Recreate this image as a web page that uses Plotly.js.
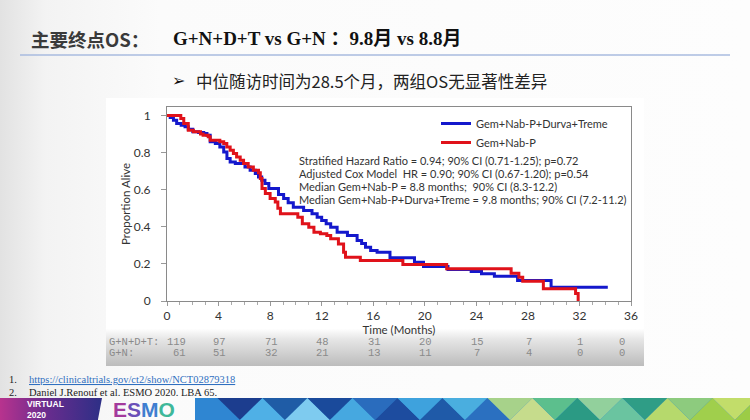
<!DOCTYPE html>
<html>
<head>
<meta charset="utf-8">
<script src="https://cdn.plot.ly/plotly-3.0.1.min.js"></script>
<style>
  html, body { margin:0; padding:0; }
  body { width:750px; height:420px; overflow:hidden; position:relative;
         background: linear-gradient(to right, #e2e2e2 0px, #f3f3f3 45px, #fbfbfb 160px, #fdfdfd 100%); }
  #box { position:absolute; left:106px; top:98px; width:538px; height:268px;
         background: linear-gradient(to bottom, #ffffff 0%, #ffffff 86%, #e6e6e6 90%, #bcbcbc 100%); z-index:0; }
  #virt { position:absolute; left:0; top:398px; width:102px; height:22px;
          background: linear-gradient(to right, #b8338e 0%, #6a2c8e 45%, #2d2f86 100%);
          clip-path: polygon(0 0, 100% 0, 96% 100%, 0 100%); z-index:0; }
  #plot { position:absolute; left:0; top:0; width:750px; height:420px; z-index:1; }
</style>
</head>
<body>
<div id="box"></div>
<div id="virt"></div>
<div id="plot"></div>
<script>
// ---- data ----
const blueName = 'Gem+Nab-P+Durva+Treme';
const redName = 'Gem+Nab-P';
const blueTime = [0,0.25,0.5,0.75,1.1,1.4,1.65,2.0,2.45,2.85,3.1,3.35,3.75,4.1,4.4,4.65,4.9,5.3,6.05,6.45,6.85,7.1,7.35,7.6,7.9,8.65,9.05,9.4,9.8,10.6,11.25,11.65,12.0,12.35,12.7,13.2,14.0,14.75,15.1,15.4,15.8,16.3,17.3,19.2,19.9,21.8,23.6,24.4,25.4,27.2,29.8,34.2];
const blueSurv = [1,0.99,0.975,0.957,0.948,0.94,0.926,0.912,0.908,0.903,0.894,0.858,0.849,0.831,0.804,0.768,0.75,0.741,0.723,0.705,0.687,0.669,0.651,0.633,0.606,0.574,0.552,0.53,0.506,0.488,0.47,0.452,0.434,0.416,0.398,0.371,0.353,0.326,0.31,0.29,0.272,0.263,0.233,0.209,0.186,0.17,0.159,0.147,0.133,0.11,0.074,0.074];
const redTime = [0,1.07,1.3,1.65,2.05,2.6,2.8,3.2,3.35,4.1,4.4,4.64,4.9,5.15,5.4,5.68,5.94,6.3,6.7,7.1,7.24,7.37,7.63,8.0,8.4,8.6,8.8,10.15,10.5,11.0,11.4,11.9,12.4,12.7,13.3,13.7,13.85,15.0,18.3,21.7,26.7,27.3,27.6,29.2,31.7,31.9];
const redSurv = [1,0.984,0.957,0.92,0.912,0.9,0.894,0.885,0.867,0.858,0.849,0.831,0.813,0.795,0.777,0.759,0.741,0.723,0.705,0.692,0.66,0.606,0.579,0.552,0.534,0.5,0.47,0.452,0.416,0.398,0.371,0.362,0.353,0.335,0.308,0.263,0.236,0.218,0.197,0.174,0.15,0.128,0.107,0.066,0.04,0];
const xTicks = [0,4,8,12,16,20,24,28,32,36];
const yTicks = [0,0.2,0.4,0.6,0.8,1];
const yTickText = ['0','0.2','0.4','0.6','0.8','1'];
const riskTimes = [0,4,8,12,16,20,24,28,32,36];
const riskLabelDT = 'G+N+D+T:';
const riskLabelGN = 'G+N:';
const riskDT = [119,97,71,48,31,20,15,7,1,0];
const riskGN = [61,51,32,21,13,11,7,4,0,0];
const statLines = [
  'Stratified Hazard Ratio = 0.94; 90% CI (0.71-1.25); p=0.72',
  'Adjusted Cox Model  HR = 0.90; 90% CI (0.67-1.20); p=0.54',
  'Median Gem+Nab-P = 8.8 months;  90% CI (8.3-12.2)',
  'Median Gem+Nab-P+Durva+Treme = 9.8 months; 90% CI (7.2-11.2)'
];
const titleMain = '主要终点OS：';
const titleSub = 'G+N+D+T vs G+N ：9.8月 vs 8.8月';
const bulletText = '中位随访时间为28.5个月，两组OS无显著性差异';
const ref1 = 'https://clinicaltrials.gov/ct2/show/NCT02879318';
const ref2 = 'Daniel J.Renouf et al. ESMO 2020. LBA 65.';
const bannerText = 'VIRTUAL<br>2020';

// ---- geometry helpers (pixel -> paper) ----
const L = 167, R = 631, T = 107, B = 301;
const W = R - L, H = B - T;
const px = x => (x - L) / W;
const py = y => (B - y) / H;

const chartFont = 'Lato, "Noto Sans", sans-serif';
const mono = '"Liberation Mono", "DejaVu Sans Mono", monospace';

const traces = [
  { x: blueTime, y: blueSurv, name: blueName, type: 'scatter', mode: 'lines',
    line: { shape: 'hv', color: '#1418cc', width: 3 } },
  { x: redTime, y: redSurv, name: redName, type: 'scatter', mode: 'lines',
    line: { shape: 'hv', color: '#e0121a', width: 3 } }
];

const ann = [];
statLines.forEach((s, i) => {
  ann.push({ text: s, xref: 'paper', yref: 'paper', x: px(297), y: py(160 + i * 13),
    xanchor: 'left', yanchor: 'middle', showarrow: false,
    font: { family: chartFont, size: 11, color: '#333' } });
});
// risk table
const riskFont = { family: mono, size: 10.5, color: '#8a8a8a' };
const rowY = [341.5, 353];
ann.push({ text: riskLabelDT, xref: 'paper', yref: 'paper', x: px(107), y: py(rowY[0]), xanchor: 'left', yanchor: 'middle', showarrow: false, font: riskFont });
ann.push({ text: riskLabelGN, xref: 'paper', yref: 'paper', x: px(107), y: py(rowY[1]), xanchor: 'left', yanchor: 'middle', showarrow: false, font: riskFont });
riskTimes.forEach((t, i) => {
  const first = i === 0;
  const last = i === riskTimes.length - 1;
  [[riskDT, rowY[0]], [riskGN, rowY[1]]].forEach(([arr, yy]) => {
    ann.push({ text: String(arr[i]), xref: 'x', yref: 'paper', x: t, y: py(yy),
      xanchor: first ? 'right' : 'center', xshift: first ? 21 : (last ? -9 : 1), yanchor: 'middle', showarrow: false,
      font: riskFont });
  });
});
// slide texts
ann.push({ text: '<b>' + titleMain + '</b>', xref: 'paper', yref: 'paper', x: px(29), y: py(39), xanchor: 'left', yanchor: 'middle', showarrow: false,
  font: { family: '"Noto Sans CJK SC", sans-serif', size: 18.5, color: '#3a3a3a' } });
ann.push({ text: '<b>' + titleSub + '</b>', xref: 'paper', yref: 'paper', x: px(171), y: py(39), xanchor: 'left', yanchor: 'middle', showarrow: false,
  font: { family: '"Liberation Serif", "Noto Sans CJK SC", serif', size: 19, color: '#111' } });
ann.push({ text: '<b>➢</b>', xref: 'paper', yref: 'paper', x: px(170), y: py(80), xanchor: 'left', yanchor: 'middle', showarrow: false,
  font: { family: '"DejaVu Sans", sans-serif', size: 16, color: '#111' } });
ann.push({ text: bulletText, xref: 'paper', yref: 'paper', x: px(194), y: py(81), xanchor: 'left', yanchor: 'middle', showarrow: false,
  font: { family: '"Noto Sans CJK SC", sans-serif', size: 16.5, color: '#222' } });
ann.push({ text: '1.', xref: 'paper', yref: 'paper', x: px(7), y: py(379), xanchor: 'left', yanchor: 'middle', showarrow: false,
  font: { family: '"Liberation Serif", serif', size: 10.5, color: '#222' } });
ann.push({ text: '<u>' + ref1 + '</u>', xref: 'paper', yref: 'paper', x: px(27), y: py(379), xanchor: 'left', yanchor: 'middle', showarrow: false,
  font: { family: '"Liberation Serif", serif', size: 10.5, color: '#2f6fc0' } });
ann.push({ text: '2.', xref: 'paper', yref: 'paper', x: px(7), y: py(392), xanchor: 'left', yanchor: 'middle', showarrow: false,
  font: { family: '"Liberation Serif", serif', size: 10.5, color: '#222' } });
ann.push({ text: ref2, xref: 'paper', yref: 'paper', x: px(27), y: py(392), xanchor: 'left', yanchor: 'middle', showarrow: false,
  font: { family: '"Liberation Serif", serif', size: 10.5, color: '#222' } });
ann.push({ text: '<b>' + bannerText + '</b>', xref: 'paper', yref: 'paper', x: px(25), y: py(409.5), xanchor: 'left', yanchor: 'middle', align: 'left', showarrow: false,
  font: { family: '"Liberation Sans", sans-serif', size: 8.5, color: '#fff' } });
ann.push({ text: '<b><span style="color:#a43a9c">E</span><span style="color:#6a4fb8">S</span><span style="color:#3f7fd0">M</span><span style="color:#3fb89a">O</span></b>',
  xref: 'paper', yref: 'paper', x: px(111), y: py(409), xanchor: 'left', yanchor: 'middle', showarrow: false,
  font: { family: '"Liberation Sans", sans-serif', size: 21, color: '#6a4fb8' } });

// decorative shapes
const shapes = [];
shapes.push({ type: 'line', xref: 'paper', yref: 'paper', x0: px(20), x1: px(730), y0: py(55), y1: py(55),
  line: { color: '#a9bbdf', width: 1.5 } });
const bandColors = ['#2f86d2','#1c3d8e','#4fb0e6','#1f5ca6','#7ecbef','#1a4a9b','#46a8e0','#2a6cbd','#1d4c9f','#3ea2dd','#1f5aa8','#4aaedf','#2b70c0','#a7d28a','#c6dc8c','#5cbf8d','#2b9a84','#92d09c','#6ac4a0','#2f9d86','#b6d96c','#8dcb7e','#a0cf4c','#c2dd6a','#9ccc46','#b3d84e'];
const x0b = 195, step = 22.5, yT = 398, yB = 420;
shapes.push({ type: 'rect', xref: 'paper', yref: 'paper', x0: px(x0b), x1: px(750), y0: py(yB), y1: py(yT),
  fillcolor: '#2f86d2', line: { width: 0 } });
bandColors.forEach((c, i) => {
  const a = x0b + i * step;
  let p;
  if (i % 2 === 0) {
    p = `M${px(a)},${py(yB)} L${px(a + step)},${py(yT)} L${px(a + 2 * step)},${py(yB)} Z`;
  } else {
    p = `M${px(a)},${py(yT)} L${px(a + step)},${py(yB)} L${px(a + 2 * step)},${py(yT)} Z`;
  }
  shapes.push({ type: 'path', xref: 'paper', yref: 'paper', path: p, fillcolor: c, line: { width: 0 } });
});

const layout = {
  width: 750, height: 420,
  margin: { l: L, r: 750 - R, t: T, b: 420 - B },
  paper_bgcolor: 'rgba(0,0,0,0)', plot_bgcolor: '#ffffff',
  showlegend: true,
  legend: { x: px(436), y: py(109), xanchor: 'left', yanchor: 'top', bgcolor: 'rgba(0,0,0,0)',
    font: { family: chartFont, size: 11, color: '#333' }, itemwidth: 30, tracegroupgap: 0 },
  xaxis: { range: [0, 36], tickvals: xTicks, ticktext: xTicks.map(String), ticks: 'outside', ticklen: 4,
    tickcolor: '#999', showline: true, linecolor: '#8a8a8a', linewidth: 1, mirror: true,
    showgrid: false, zeroline: false,
    minor: { dtick: 1, ticks: 'outside', ticklen: 3, tickcolor: '#aaa', showgrid: false },
    tickfont: { family: chartFont, size: 12, color: '#333' },
    title: { text: 'Time (Months)', font: { family: chartFont, size: 11.5, color: '#333' }, standoff: 1 } },
  yaxis: { range: [0, 1.046], tickvals: yTicks, ticktext: yTickText, ticks: 'outside', ticklen: 5,
    tickcolor: '#999', showline: true, linecolor: '#8a8a8a', linewidth: 1, mirror: true,
    showgrid: false, zeroline: false, ticklabelstandoff: 8,
    tickfont: { family: chartFont, size: 12, color: '#333' },
    title: { text: 'Proportion Alive', font: { family: chartFont, size: 11.5, color: '#333' }, standoff: 0 } },
  annotations: ann,
  shapes: shapes
};

Plotly.newPlot('plot', traces, layout, { displayModeBar: false, staticPlot: true });
</script>
</body>
</html>
